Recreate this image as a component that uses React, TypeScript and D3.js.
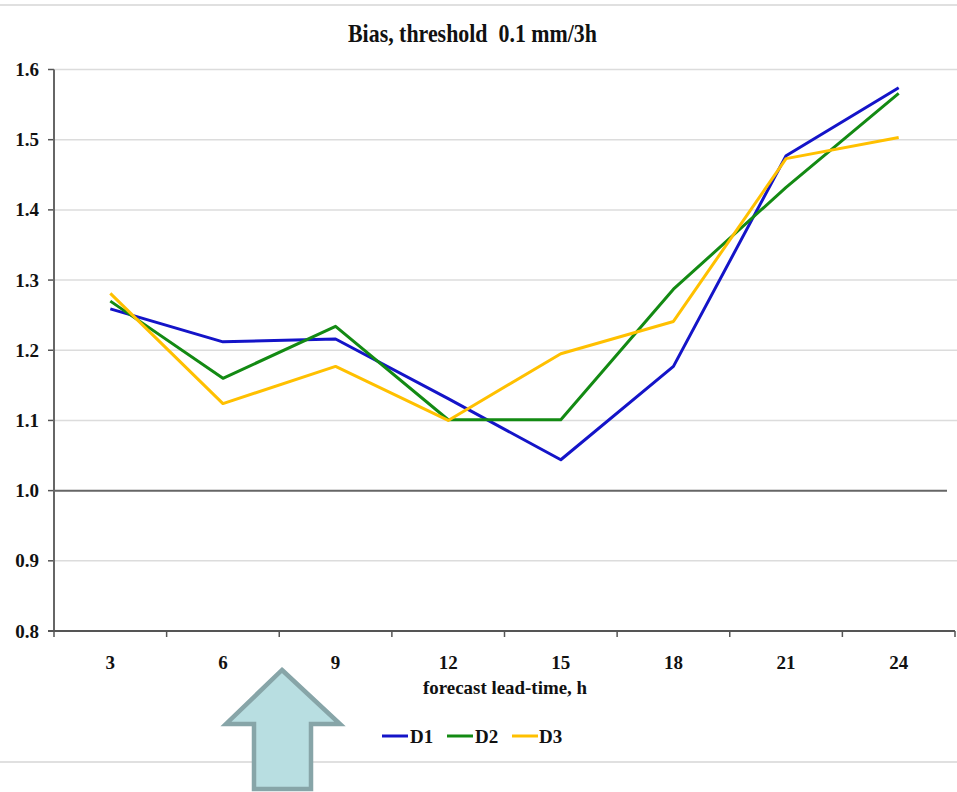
import React from "react";
import * as d3 from "d3";

const leadTimes = ["3", "6", "9", "12", "15", "18", "21", "24"];
const d1 = [1.259, 1.212, 1.216, 1.131, 1.044, 1.177, 1.477, 1.574];
const d2 = [1.27, 1.16, 1.234, 1.101, 1.101, 1.287, 1.432, 1.566];
const d3v = [1.281, 1.124, 1.177, 1.1, 1.195, 1.241, 1.473, 1.503];
const yTicks = [0.8, 0.9, 1.0, 1.1, 1.2, 1.3, 1.4, 1.5, 1.6];
const seriesNames = ["D1", "D2", "D3"];
const seriesColors = ["#1414c8", "#138a13", "#ffc000"];
const title = "Bias, threshold  0.1 mm/3h";
const xTitle = "forecast lead-time, h";

export default function App() {
  const W = 957, H = 792;
  const left = 54, right = 955, top = 69.5, bottom = 631;
  const x = d3.scaleBand<string>().domain(leadTimes).range([left, right]).padding(0);
  const y = d3.scaleLinear().domain([0.8, 1.6]).range([bottom, top]);
  const series = [d1, d2, d3v];
  const line = d3
    .line<number>()
    .x((_, i) => (x(leadTimes[i]) as number) + x.bandwidth() / 2)
    .y((v) => y(v));
  const font = "'Liberation Serif', 'DejaVu Serif', serif";
  const boundaries = leadTimes.map((c) => x(c) as number).concat([right]);

  const legendItems = [
    { lx: 382, tx: 410 },
    { lx: 447, tx: 475 },
    { lx: 512, tx: 539 },
  ];

  const arrow = [
    [282, 670],
    [340, 724],
    [311, 724],
    [311, 789],
    [254, 789],
    [254, 724],
    [226, 724],
  ];

  const ts = { fontFamily: font, whiteSpace: "pre" as const };

  return (
    <svg
      width={W}
      height={H}
      style={{ position: "absolute", left: 0, top: 0, background: "#fff", fontFamily: font }}
    >
      <line x1={0} x2={W} y1={5} y2={5} stroke="#e0e0e0" strokeWidth={2} />
      <text x={348} y={42} fontSize={26} fontWeight="bold" fill="#111" style={ts} textLength={249} lengthAdjust="spacingAndGlyphs">
        {title}
      </text>
      {yTicks.map((t) =>
        t === 0.8 ? null : (
          <line
            key={"g" + t}
            x1={left}
            x2={t === 1.0 ? 947 : W}
            y1={y(t)}
            y2={y(t)}
            stroke={t === 1.0 ? "#666" : "#dcdcdc"}
            strokeWidth={t === 1.0 ? 2 : 1.5}
          />
        )
      )}
      {yTicks.map((t) => (
        <g key={"yt" + t}>
          <line x1={48} x2={left} y1={y(t)} y2={y(t)} stroke="#555" strokeWidth={1.5} />
          <text x={39} y={y(t) + 6.5} textAnchor="end" fontSize={19} fontWeight="bold" fill="#111" style={ts}>
            {t.toFixed(1)}
          </text>
        </g>
      ))}
      <line x1={left} x2={left} y1={top} y2={bottom} stroke="#666" strokeWidth={2} />
      <line x1={left - 6} x2={right} y1={bottom} y2={bottom} stroke="#555" strokeWidth={2} />
      {boundaries.map((b, i) => (
        <line key={"xt" + i} x1={b} x2={b} y1={bottom} y2={bottom + 6} stroke="#555" strokeWidth={1.5} />
      ))}
      {leadTimes.map((c) => (
        <text
          key={"xl" + c}
          x={(x(c) as number) + x.bandwidth() / 2}
          y={669}
          textAnchor="middle"
          fontSize={19}
          fontWeight="bold"
          fill="#111"
          style={ts}
        >
          {c}
        </text>
      ))}
      <text x={423} y={694} fontSize={19} fontWeight="bold" fill="#111" style={ts} textLength={164} lengthAdjust="spacingAndGlyphs">
        {xTitle}
      </text>
      {series.map((s, i) => (
        <path
          key={"s" + i}
          d={line(s) as string}
          fill="none"
          stroke={seriesColors[i]}
          strokeWidth={3}
          strokeLinejoin="round"
        />
      ))}
      {seriesNames.map((n, i) => (
        <g key={"lg" + n}>
          <line
            x1={legendItems[i].lx}
            x2={legendItems[i].lx + 26}
            y1={736}
            y2={736}
            stroke={seriesColors[i]}
            strokeWidth={3}
          />
          <text x={legendItems[i].tx} y={742.5} fontSize={19} fontWeight="bold" fill="#111" style={ts}>
            {n}
          </text>
        </g>
      ))}
      <line x1={0} x2={W} y1={762} y2={762} stroke="#e0e0e0" strokeWidth={2} />
      <polygon
        points={arrow.map((p) => p.join(",")).join(" ")}
        fill="#b8dee1"
        stroke="#87a5a8"
        strokeWidth={4.5}
        strokeLinejoin="miter"
      />
    </svg>
  );
}
